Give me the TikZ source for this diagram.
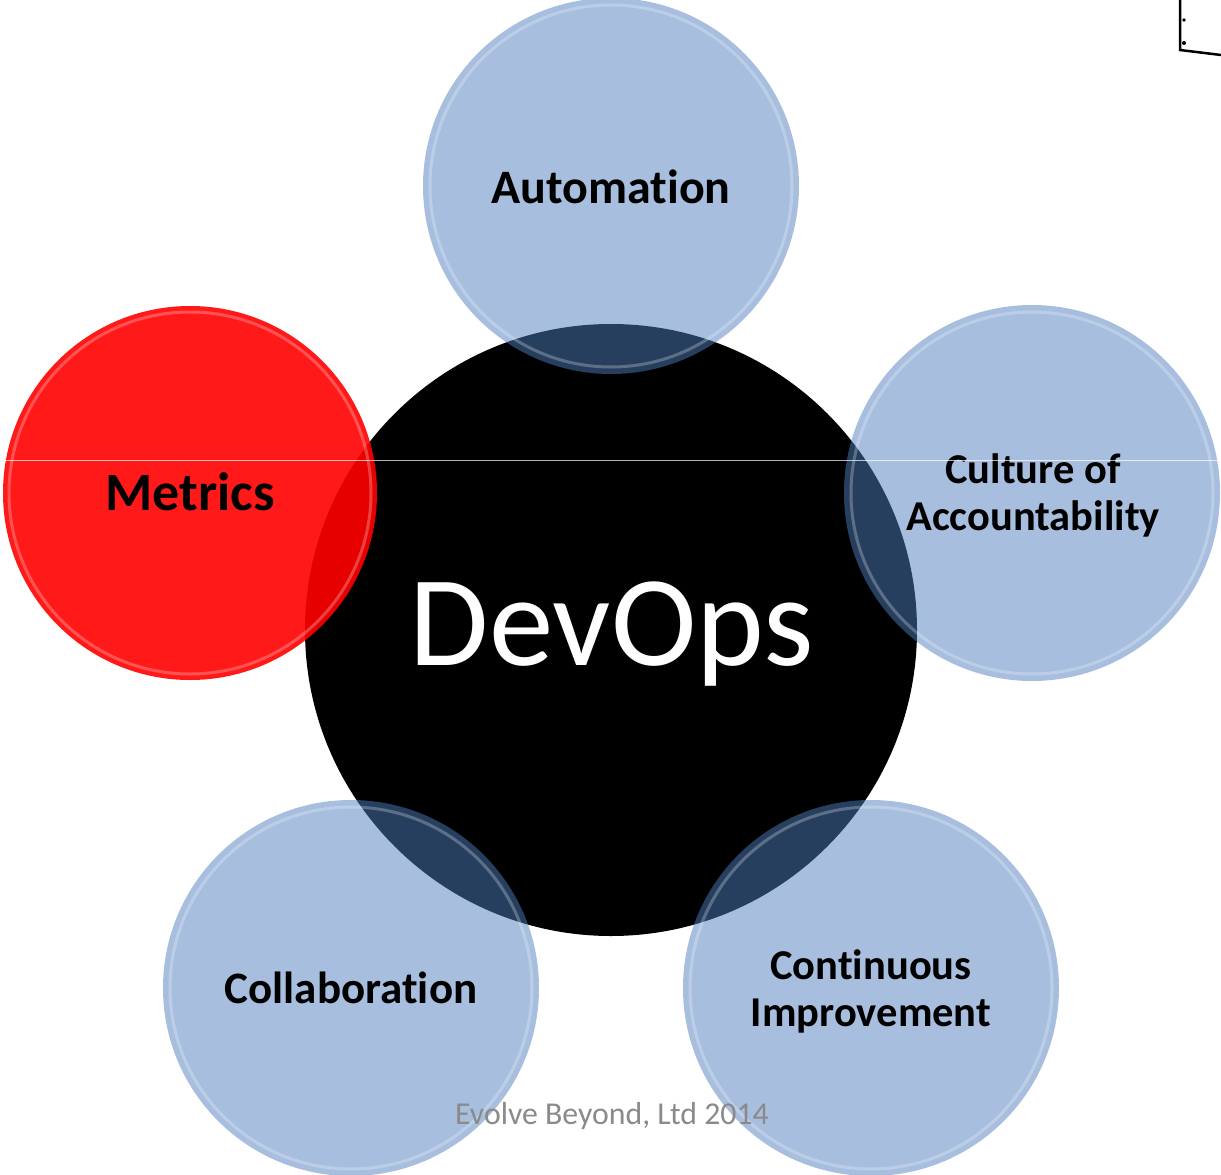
\documentclass[tikz,border=0pt]{standalone}
\usepackage{fontspec}
\usetikzlibrary{calc}
\setmainfont{Carlito}[Ligatures=NoCommon]
\definecolor{bubblue}{HTML}{4F7EBE}
\definecolor{footgray}{HTML}{8A8A8A}
\tikzset{
  bub/.style={circle, inner sep=0pt, minimum size=376pt, fill=bubblue, fill opacity=0.5, text opacity=1},
  redbub/.style={circle, inner sep=0pt, minimum size=374pt, fill=red, fill opacity=0.9, text opacity=1},
  core/.style={circle, inner sep=0pt, minimum size=612pt, fill=black},
  lbl/.style={anchor=base, inner sep=0pt, text=black, font=\fontsize{48}{56}\selectfont\bfseries},
  lblsm/.style={lbl, font=\fontsize{42.5}{47}\selectfont\bfseries},
  bevel/.style={white, opacity=0.25, line width=3pt},
}
\begin{document}
\begin{tikzpicture}[x=1pt,y=-1pt]
\useasboundingbox (0,0) rectangle (1221,1175);
\begin{scope}
\clip (0,0) rectangle (1221,1175);
\node[core] (devops) at (611,630) {};
\node[anchor=base, inner sep=0pt, text=white, font=\fontsize{129}{135}\selectfont] (devopst) at (612,665) {DevOps};
\node[bub] (auto) at (611,186) {};
\node[bub] (cult) at (1032,493) {};
\node[bub] (coll) at (351,988) {};
\node[bub] (cont) at (871,988) {};
\node[redbub] (metr) at (190,493) {};
% soft bevel rings
\foreach \c in {auto,cult,coll,cont,metr}{
  \draw[bevel] (\c.center) circle[radius=181];
}
\node[lbl] (autot) at (611,203) {Automation};
\node[lbl, font=\fontsize{54}{60}\selectfont\bfseries] (metrt) at (190,510) {Metrics};
\node[lblsm] (cult1) at (1033,483) {Culture of};
\node[lblsm] (cult2) at (1033,530) {Accountability};
\node[lbl, font=\fontsize{45}{52}\selectfont\bfseries] (collt) at (351,1003) {Collaboration};
\node[lblsm] (cont1) at (871,979) {Continuous};
\node[lblsm] (cont2) at (871,1026) {Improvement};
\node[anchor=base, inner sep=0pt, text=footgray, font=\fontsize{31.8}{36}\selectfont] (foot) at (612,1124) {Evolve Beyond, Ltd 2014};
% stray artefacts
\coordinate (l1) at (5,460);
\coordinate (l2) at (1221,460);
\draw[white, opacity=0.7, line width=0.8pt] (l1) -- (l2);
\coordinate (b1) at (1180,0);
\coordinate (b2) at (1180,50);
\coordinate (b3) at (1221,55);
\draw[black, line width=2.5pt] (b1) -- (b2) -- (b3);
\fill (1184,20) circle (1.8pt);
\fill (1184,43) circle (2pt);
\end{scope}
\end{tikzpicture}
\end{document}
